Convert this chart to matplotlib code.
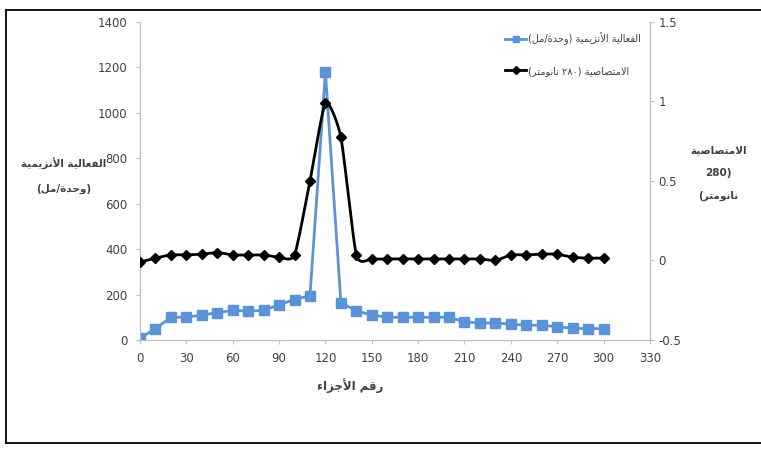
import numpy as np
import matplotlib
matplotlib.use("Agg")
import matplotlib.pyplot as plt
from matplotlib.lines import Line2D

# fractions (ml) collected
fractions = list(range(0, 301, 10))

# enzyme activity (U/ml), left axis
activity = [8, 50, 100, 100, 110, 120, 130, 128, 130, 155, 178, 195, 1180, 165,
            128, 110, 100, 100, 100, 100, 100, 80, 75, 75, 70, 65, 65, 58, 52, 50, 50]

# absorbance at 280 nm, right axis
absorbance = [-0.01, 0.015, 0.035, 0.035, 0.04, 0.05, 0.035, 0.035, 0.035, 0.02,
              0.035, 0.50, 0.99, 0.775, 0.035, 0.01, 0.01, 0.01, 0.01, 0.01, 0.01,
              0.01, 0.01, 0.0, 0.035, 0.035, 0.04, 0.04, 0.02, 0.015, 0.015]

x_ticks = list(range(0, 331, 30))
left_ticks = list(range(0, 1401, 200))
right_ticks = [-0.5, 0, 0.5, 1, 1.5]
right_labels = ["-0.5", "0", "0.5", "1", "1.5"]

label_activity = "الفعالية الأنزيمية (وحدة/مل)"
label_absorb = "الامتصاصية (٢٨٠ نانومتر)"
xlabel = "رقم الأجزاء"
ylabel_left = ["الفعالية الأنزيمية", "(وحدة/مل)"]
ylabel_right = ["الامتصاصية", "(280", "نانومتر)"]

BLUE = "#5b93d6"
GREY = "#bfbfbf"

# --- tiny arabic shaper (matplotlib has no complex text layout) ---
FORMS = {
    "ا": (0xFE8D, 0xFE8E, None, None), "أ": (0xFE83, 0xFE84, None, None),
    "د": (0xFEA9, 0xFEAA, None, None), "ر": (0xFEAD, 0xFEAE, None, None),
    "ز": (0xFEAF, 0xFEB0, None, None), "و": (0xFEED, 0xFEEE, None, None),
    "ة": (0xFE93, 0xFE94, None, None), "ء": (0xFE80, 0xFE80, None, None),
    "ل": (0xFEDD, 0xFEDE, 0xFEDF, 0xFEE0), "ف": (0xFED1, 0xFED2, 0xFED3, 0xFED4),
    "ع": (0xFEC9, 0xFECA, 0xFECB, 0xFECC), "ي": (0xFEF1, 0xFEF2, 0xFEF3, 0xFEF4),
    "ن": (0xFEE5, 0xFEE6, 0xFEE7, 0xFEE8), "م": (0xFEE1, 0xFEE2, 0xFEE3, 0xFEE4),
    "ح": (0xFEA1, 0xFEA2, 0xFEA3, 0xFEA4), "ت": (0xFE95, 0xFE96, 0xFE97, 0xFE98),
    "ص": (0xFEB9, 0xFEBA, 0xFEBB, 0xFEBC), "س": (0xFEB1, 0xFEB2, 0xFEB3, 0xFEB4),
    "ق": (0xFED5, 0xFED6, 0xFED7, 0xFED8), "ج": (0xFE9D, 0xFE9E, 0xFE9F, 0xFEA0),
}
LAM_ALEF = {"ا": (0xFEFB, 0xFEFC), "أ": (0xFEF7, 0xFEF8)}
MIRROR = {"(": ")", ")": "("}


def dual(c):
    return c in FORMS and FORMS[c][2] is not None


def joins(c):
    return c in FORMS and c != "ء"


def shape(text):
    out = []
    i = 0
    n = len(text)
    while i < n:
        c = text[i]
        prev_c = text[i - 1] if i > 0 else ""
        link_prev = dual(prev_c)
        if c == "ل" and i + 1 < n and text[i + 1] in LAM_ALEF:
            iso, fin = LAM_ALEF[text[i + 1]]
            out.append(chr(fin if link_prev else iso))
            i += 2
            continue
        if i > 1 and prev_c in LAM_ALEF and text[i - 2] == "ل":
            link_prev = False
        if c in FORMS:
            iso, fin, ini, med = FORMS[c]
            nxt = text[i + 1] if i + 1 < n else ""
            link_next = dual(c) and joins(nxt)
            if link_prev and link_next:
                f = med
            elif link_prev:
                f = fin
            elif link_next:
                f = ini
            else:
                f = iso
            out.append(chr(f))
        else:
            out.append(c)
        i += 1
    # visual order: reverse, mirror brackets, keep digit runs LTR
    vis = [MIRROR.get(ch, ch) for ch in reversed(out)]
    res = []
    run = []
    for ch in vis:
        if ch.isdigit():
            run.append(ch)
        else:
            res.extend(reversed(run))
            run = []
            res.append(ch)
    res.extend(reversed(run))
    return "".join(res)


def smooth(xs, ys, tension=0.6, steps=12):
    # cardinal spline through the data points, like excel's smoothed line
    xs = np.asarray(xs, float)
    ys = np.asarray(ys, float)
    px = np.concatenate([[2 * xs[0] - xs[1]], xs, [2 * xs[-1] - xs[-2]]])
    py = np.concatenate([[2 * ys[0] - ys[1]], ys, [2 * ys[-1] - ys[-2]]])
    t = np.linspace(0, 1, steps, endpoint=False)
    h00 = 2 * t ** 3 - 3 * t ** 2 + 1
    h10 = t ** 3 - 2 * t ** 2 + t
    h01 = -2 * t ** 3 + 3 * t ** 2
    h11 = t ** 3 - t ** 2
    ox, oy = [], []
    for k in range(1, len(px) - 2):
        for p, o in ((px, ox), (py, oy)):
            m1 = 0.5 * tension * (p[k + 1] - p[k - 1])
            m2 = 0.5 * tension * (p[k + 2] - p[k])
            o.extend(h00 * p[k] + h10 * m1 + h01 * p[k + 1] + h11 * m2)
    ox.append(xs[-1])
    oy.append(ys[-1])
    return ox, oy


plt.rcParams["font.family"] = ["Liberation Sans Narrow", "DejaVu Sans Condensed", "DejaVu Sans"]
AR = ["DejaVu Sans"]

fig = plt.figure(figsize=(7.61, 4.49), dpi=100)
ax = fig.add_axes([0.184, 0.2428, 0.67, 0.7082])
ax2 = ax.twinx()

ax.plot(fractions, activity, color=BLUE, lw=2, marker="s", ms=6.5, zorder=3)
sx, sy = smooth(fractions, absorbance)
ax2.plot(sx, sy, color="black", lw=2, zorder=3)
ax2.plot(fractions, absorbance, ls="none", marker="D", ms=5, color="black", zorder=4)

ax.set_xlim(0, 330)
ax.set_ylim(0, 1400)
ax2.set_ylim(-0.5, 1.5)
ax.set_xticks(x_ticks)
ax.set_yticks(left_ticks)
ax2.set_yticks(right_ticks)
ax2.set_yticklabels(right_labels)

for a in (ax, ax2):
    for s in a.spines.values():
        s.set_color(GREY)
    a.spines["top"].set_visible(False)
    a.tick_params(colors=GREY, labelcolor="#404040", labelsize=8.5, length=3, width=0.8)
ax.tick_params(axis="x", pad=6)
ax.tick_params(axis="y", pad=6)
ax2.tick_params(axis="y", pad=3)

handles = [Line2D([], [], color=BLUE, lw=2, marker="s", ms=5),
           Line2D([], [], color="black", lw=2, marker="D", ms=4.5)]
leg = ax.legend(handles, [shape(label_activity), shape(label_absorb)],
                loc="upper right", bbox_to_anchor=(1.0, 0.995), frameon=False,
                prop={"family": AR, "size": 7}, labelspacing=2.1,
                handlelength=2.2, handletextpad=0.2, labelcolor="#404040")

fig.text(0.084, 0.635, shape(ylabel_left[0]), ha="center", va="center",
         family=AR, fontsize=7.5, fontweight="bold", color="#404040")
fig.text(0.084, 0.58, shape(ylabel_left[1]), ha="center", va="center",
         family=AR, fontsize=7.5, fontweight="bold", color="#404040")
for k, line in enumerate(ylabel_right):
    fig.text(0.944, 0.665 - k * 0.051, shape(line), ha="center", va="center",
             family=AR, fontsize=7.5, fontweight="bold", color="#404040")
fig.text(0.46, 0.142, shape(xlabel), ha="center", va="center",
         family=AR, fontsize=8.5, fontweight="bold", color="#404040")

# outer frame (the right edge falls off the picture)
for xs_, ys_ in (([0.008, 0.008], [0.013, 0.978]), ([0.008, 1.0], [0.978, 0.978]),
                 ([0.008, 1.0], [0.013, 0.013])):
    fig.add_artist(Line2D(xs_, ys_, color="black", lw=1.3, transform=fig.transFigure))

fig.savefig("out.png", dpi=100)
